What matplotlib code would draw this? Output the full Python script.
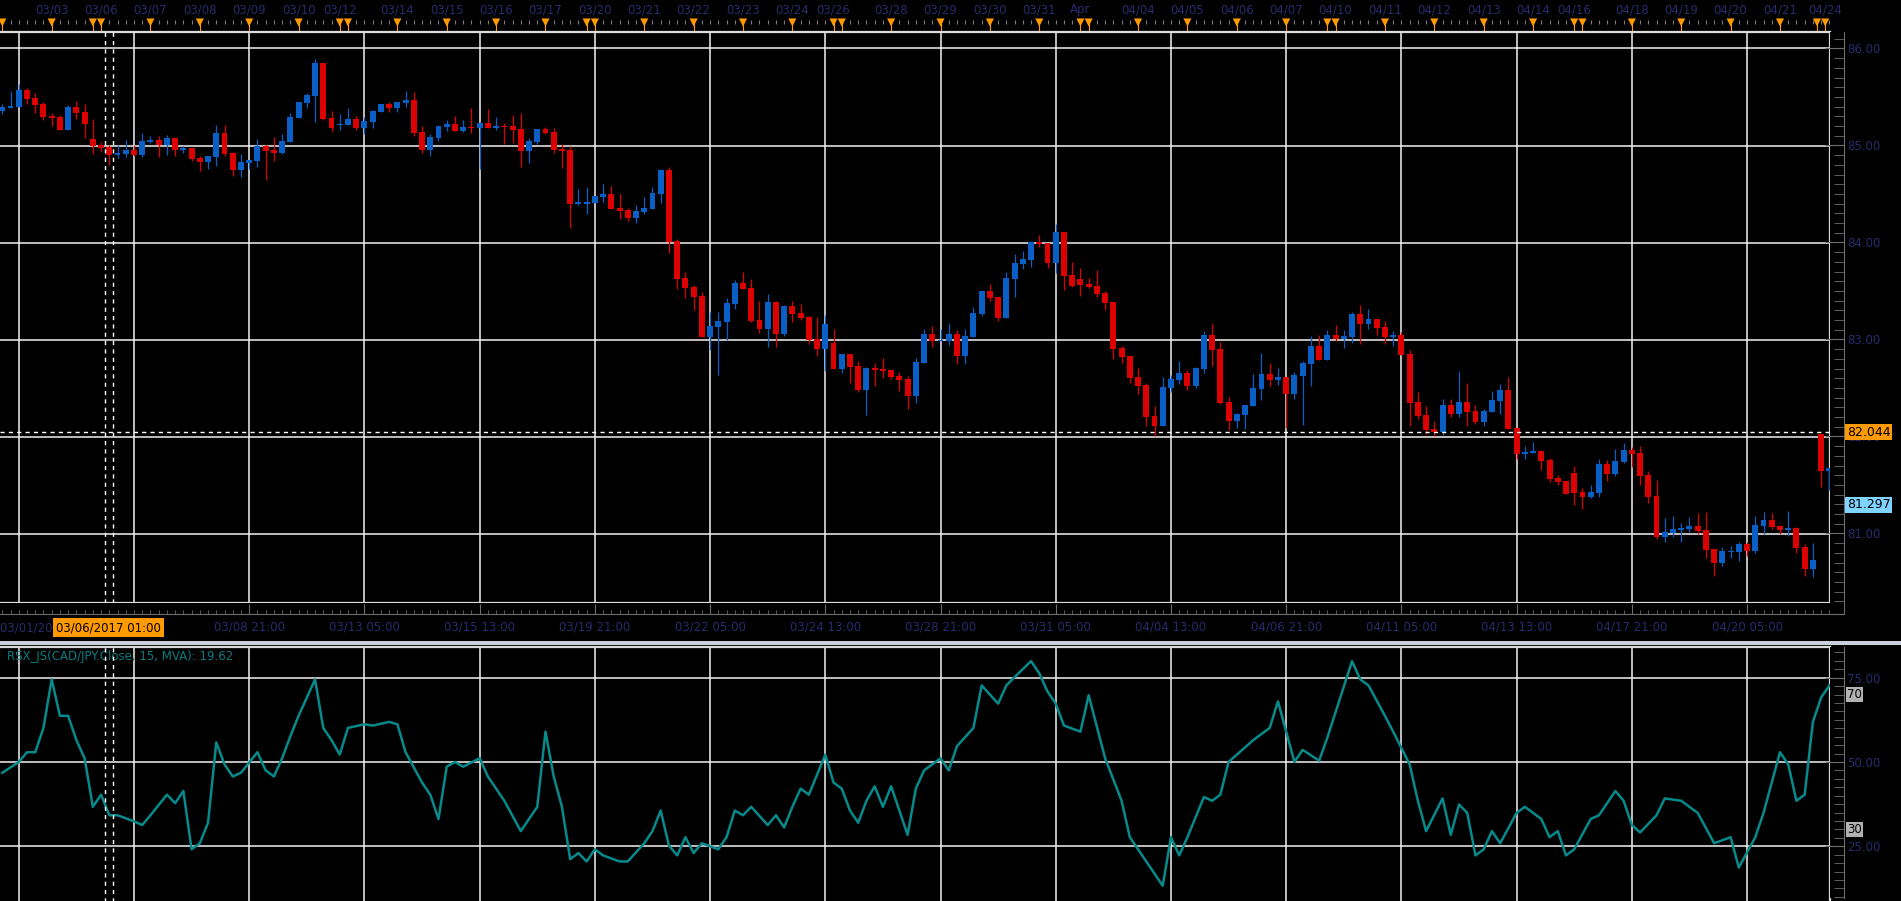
import matplotlib
matplotlib.use("Agg")
import matplotlib.pyplot as plt
from matplotlib.collections import LineCollection
from matplotlib.patches import Rectangle

# ---------------------------------------------------------
# CAD/JPY 4h candles
# ---------------------------------------------------------
opens = [85.354, 85.388, 85.395, 85.570, 85.488, 85.426, 85.302, 85.292, 85.158, 85.395,
         85.344, 85.065, 85.003, 84.983, 84.900, 84.911, 84.952, 84.900, 85.034, 85.055,
         85.003, 85.076, 84.955, 84.973, 84.869, 84.828, 84.880, 85.127, 84.921, 84.746,
         84.818, 84.839, 84.993, 84.952, 84.921, 85.034, 85.282, 85.436, 85.509, 85.849,
         85.282, 85.210, 85.210, 85.271, 85.179, 85.241, 85.344, 85.426, 85.385, 85.436,
         85.467, 85.137, 84.952, 85.076, 85.189, 85.220, 85.151, 85.192, 85.182, 85.230,
         85.182, 85.203, 85.203, 85.168, 84.942, 85.034, 85.168, 85.137, 84.962, 84.952,
         84.395, 84.395, 84.406, 84.467, 84.498, 84.354, 84.333, 84.251, 84.313, 84.344,
         84.498, 84.746, 84.014, 83.632, 83.540, 83.447, 83.024, 83.127, 83.179, 83.364,
         83.581, 83.529, 83.200, 83.107, 83.385, 83.055, 83.344, 83.272, 83.230, 83.004,
         82.901, 82.962, 82.694, 82.849, 82.725, 82.478, 82.705, 82.694, 82.684, 82.622,
         82.591, 82.416, 82.756, 83.055, 82.983, 82.983, 83.055, 82.828, 83.024, 83.261,
         83.498, 83.436, 83.220, 83.622, 83.777, 83.818, 84.003, 83.993, 83.787, 84.107,
         83.663, 83.622, 83.570, 83.550, 83.478, 83.385, 82.911, 82.828, 82.612, 82.529,
         82.210, 82.107, 82.498, 82.581, 82.653, 82.519, 82.694, 83.045, 82.900, 82.354,
         82.158, 82.220, 82.313, 82.488, 82.643, 82.581, 82.612, 82.437, 82.622, 82.746,
         82.931, 82.787, 83.045, 83.004, 83.024, 83.261, 83.158, 83.210, 83.127, 83.027,
         83.045, 82.849, 82.354, 82.220, 82.076, 82.045, 82.323, 82.230, 82.354, 82.261,
         82.148, 82.251, 82.364, 82.478, 82.086, 81.818, 81.828, 81.849, 81.756, 81.571,
         81.540, 81.622, 81.426, 81.375, 81.416, 81.715, 81.612, 81.736, 81.859, 81.828,
         81.602, 81.385, 80.962, 81.004, 81.035, 81.045, 81.076, 81.035, 80.839, 80.694,
         80.808, 80.808, 80.890, 80.818, 81.076, 81.138, 81.076, 81.035, 81.055, 80.859,
         80.633, 82.024, 81.643]
highs = [85.426, 85.560, 85.632, 85.591, 85.543, 85.447, 85.333, 85.313, 85.416, 85.457,
         85.426, 85.271, 85.034, 85.003, 85.003, 85.055, 85.003, 85.127, 85.096, 85.096,
         85.107, 85.076, 84.993, 84.973, 84.890, 84.890, 85.210, 85.210, 84.931, 84.911,
         84.849, 85.065, 85.014, 85.086, 85.117, 85.333, 85.447, 85.539, 85.890, 85.849,
         85.354, 85.323, 85.385, 85.302, 85.292, 85.364, 85.426, 85.447, 85.447, 85.560,
         85.550, 85.199, 85.117, 85.199, 85.261, 85.302, 85.261, 85.390, 85.244, 85.380,
         85.292, 85.230, 85.313, 85.333, 85.076, 85.168, 85.189, 85.179, 85.014, 84.993,
         84.550, 84.571, 84.478, 84.601, 84.581, 84.498, 84.354, 84.385, 84.467, 84.571,
         84.756, 84.777, 84.034, 83.694, 83.560, 83.488, 83.282, 83.282, 83.426, 83.612,
         83.694, 83.622, 83.395, 83.468, 83.395, 83.354, 83.395, 83.364, 83.241, 83.230,
         83.251, 83.107, 82.849, 82.849, 82.777, 82.715, 82.756, 82.808, 82.684, 82.663,
         82.622, 82.808, 83.107, 83.138, 83.107, 83.169, 83.096, 83.107, 83.333, 83.498,
         83.570, 83.436, 83.694, 83.880, 83.911, 84.014, 84.076, 83.993, 84.189, 84.107,
         83.797, 83.735, 83.632, 83.715, 83.498, 83.385, 82.931, 82.828, 82.705, 82.550,
         82.313, 82.612, 82.632, 82.777, 82.684, 82.715, 83.086, 83.169, 82.973, 82.406,
         82.241, 82.323, 82.643, 82.859, 82.756, 82.705, 82.612, 82.663, 82.777, 83.034,
         83.045, 83.096, 83.148, 83.096, 83.282, 83.354, 83.313, 83.210, 83.189, 83.086,
         83.076, 82.890, 82.457, 82.313, 82.158, 82.385, 82.385, 82.674, 82.550, 82.323,
         82.282, 82.467, 82.540, 82.612, 82.086, 81.900, 81.942, 81.859, 81.777, 81.602,
         81.540, 81.694, 81.468, 81.498, 81.766, 81.756, 81.870, 81.931, 81.890, 81.900,
         81.643, 81.550, 81.158, 81.179, 81.107, 81.169, 81.210, 81.220, 80.839, 80.859,
         80.870, 80.911, 80.911, 81.179, 81.220, 81.210, 81.086, 81.230, 81.066, 80.890,
         80.901, 82.024, 81.674]
lows = [85.323, 85.388, 85.395, 85.430, 85.333, 85.265, 85.199, 85.158, 85.158, 85.271,
        85.076, 84.911, 84.931, 84.797, 84.869, 84.880, 84.890, 84.880, 85.024, 84.880,
        84.900, 84.890, 84.921, 84.839, 84.735, 84.756, 84.787, 84.890, 84.684, 84.674,
        84.756, 84.777, 84.643, 84.839, 84.911, 85.034, 85.282, 85.385, 85.241, 85.261,
        85.137, 85.158, 85.210, 85.158, 85.117, 85.179, 85.344, 85.344, 85.344, 85.395,
        85.096, 84.921, 84.890, 85.045, 85.148, 85.148, 85.141, 85.131, 84.756, 85.182,
        85.161, 85.017, 85.027, 84.780, 84.818, 85.017, 85.117, 84.924, 84.766, 84.151,
        84.385, 84.292, 84.406, 84.416, 84.344, 84.241, 84.220, 84.199, 84.292, 84.344,
        84.406, 83.890, 83.519, 83.426, 83.303, 83.024, 82.890, 82.633, 82.993, 83.313,
        83.519, 83.179, 83.066, 82.921, 82.921, 83.035, 83.179, 83.200, 82.952, 82.828,
        82.674, 82.694, 82.653, 82.550, 82.457, 82.220, 82.519, 82.602, 82.591, 82.468,
        82.282, 82.344, 82.756, 82.921, 82.983, 82.942, 82.746, 82.746, 83.024, 83.241,
        83.395, 83.189, 83.220, 83.436, 83.725, 83.746, 83.952, 83.735, 83.684, 83.509,
        83.540, 83.447, 83.529, 83.436, 83.302, 82.797, 82.756, 82.550, 82.437, 82.107,
        82.004, 82.107, 82.457, 82.540, 82.478, 82.498, 82.653, 82.725, 82.334, 82.066,
        82.086, 82.076, 82.313, 82.375, 82.519, 82.529, 82.086, 82.385, 82.117, 82.519,
        82.787, 82.787, 82.983, 82.911, 82.962, 82.952, 83.107, 83.045, 82.955, 82.935,
        82.839, 82.107, 82.179, 82.024, 82.004, 82.014, 82.199, 82.199, 82.107, 82.127,
        82.107, 82.251, 82.230, 82.076, 81.766, 81.766, 81.828, 81.653, 81.529, 81.498,
        81.406, 81.292, 81.251, 81.364, 81.375, 81.540, 81.591, 81.725, 81.684, 81.498,
        81.313, 80.942, 80.911, 80.962, 80.911, 81.014, 80.993, 80.746, 80.560, 80.664,
        80.746, 80.715, 80.767, 80.798, 80.993, 81.045, 80.993, 80.973, 80.798, 80.560,
        80.550, 81.478, 81.447]
closes = [85.395, 85.405, 85.570, 85.478, 85.416, 85.292, 85.282, 85.158, 85.395, 85.333,
          85.220, 84.993, 84.973, 84.900, 84.921, 84.952, 84.900, 85.045, 85.055, 85.003,
          85.076, 84.952, 84.973, 84.859, 84.828, 84.890, 85.127, 84.911, 84.746, 84.828,
          84.849, 84.993, 84.942, 84.921, 85.045, 85.292, 85.447, 85.519, 85.849, 85.271,
          85.179, 85.220, 85.271, 85.179, 85.251, 85.354, 85.426, 85.385, 85.447, 85.467,
          85.127, 84.952, 85.086, 85.199, 85.220, 85.148, 85.189, 85.182, 85.230, 85.182,
          85.203, 85.192, 85.161, 84.942, 85.045, 85.168, 85.127, 84.952, 84.942, 84.395,
          84.416, 84.416, 84.478, 84.498, 84.344, 84.323, 84.251, 84.323, 84.354, 84.509,
          84.746, 84.007, 83.622, 83.529, 83.437, 83.024, 83.138, 83.189, 83.375, 83.581,
          83.519, 83.189, 83.107, 83.385, 83.055, 83.344, 83.261, 83.220, 82.993, 82.901,
          83.158, 82.694, 82.849, 82.715, 82.478, 82.705, 82.684, 82.674, 82.612, 82.581,
          82.416, 82.767, 83.055, 82.983, 82.993, 83.055, 82.828, 83.034, 83.272, 83.498,
          83.426, 83.220, 83.632, 83.787, 83.828, 84.003, 83.983, 83.787, 84.107, 83.653,
          83.550, 83.560, 83.540, 83.467, 83.375, 82.900, 82.818, 82.602, 82.519, 82.200,
          82.107, 82.509, 82.591, 82.653, 82.519, 82.705, 83.045, 82.890, 82.344, 82.158,
          82.230, 82.323, 82.498, 82.643, 82.581, 82.612, 82.437, 82.632, 82.756, 82.931,
          82.787, 83.045, 83.004, 83.034, 83.261, 83.158, 83.210, 83.117, 83.027, 83.045,
          82.839, 82.344, 82.210, 82.065, 82.045, 82.323, 82.230, 82.354, 82.251, 82.148,
          82.261, 82.375, 82.478, 82.076, 81.818, 81.839, 81.849, 81.746, 81.560, 81.529,
          81.406, 81.416, 81.375, 81.426, 81.715, 81.612, 81.746, 81.859, 81.818, 81.591,
          81.375, 80.962, 81.014, 81.045, 81.055, 81.076, 81.024, 80.828, 80.694, 80.818,
          80.818, 80.890, 80.818, 81.086, 81.138, 81.066, 81.035, 81.055, 80.849, 80.633,
          80.725, 81.643, 81.674]

# RSX oscillator, turning points (bar index, value)
rsi_idx = [0, 2, 3, 4, 5, 6, 7, 8, 9, 10, 11, 12, 13, 14, 16, 17, 18, 20, 21, 22, 23, 24, 25,
           26, 27, 28, 29, 31, 32, 33, 34, 35, 36, 38, 39, 40, 41, 42, 44, 45, 47, 48, 49, 51,
           52, 53, 54, 55, 56, 58, 59, 61, 63, 65, 66, 67, 68, 69, 70, 71, 72, 73, 75, 76, 78,
           79, 80, 81, 82, 83, 84, 85, 87, 88, 89, 90, 91, 93, 94, 95, 96, 97, 98, 100, 101,
           102, 103, 104, 105, 106, 107, 108, 110, 111, 112, 114, 115, 116, 118, 119, 121,
           122, 123, 125, 126, 127, 128, 129, 131, 132, 134, 136, 137, 139, 141, 142, 143,
           144, 146, 147, 148, 149, 152, 154, 155, 157, 158, 160, 161, 164, 165, 166, 168,
           169, 171, 172, 173, 175, 176, 177, 178, 179, 180, 181, 182, 184, 185, 187, 188,
           189, 190, 191, 193, 194, 196, 197, 198, 199, 201, 202, 204, 206, 208, 210, 211,
           213, 214, 216, 217, 218, 219, 220, 221, 222]
rsi_val = [46.8, 50.0, 52.9, 52.9, 60.1, 74.5, 63.7, 63.7, 56.5, 51.1, 36.7, 40.3, 34.2, 34.2,
           32.4, 31.3, 34.2, 40.3, 37.8, 41.4, 24.1, 25.9, 32.0, 55.8, 49.3, 45.7, 46.8, 52.9,
           47.5, 45.7, 51.1, 57.6, 63.7, 74.5, 60.1, 56.5, 52.2, 60.1, 61.2, 60.8, 61.9, 61.2,
           52.9, 43.9, 40.3, 33.1, 48.6, 50.0, 48.6, 51.1, 45.7, 38.5, 29.5, 36.7, 59.0, 45.7,
           36.7, 21.2, 23.0, 20.5, 24.1, 22.3, 20.5, 20.5, 25.9, 29.5, 35.6, 25.2, 22.3, 27.7,
           23.0, 25.9, 24.1, 27.7, 35.6, 34.2, 36.7, 31.3, 34.2, 30.6, 36.7, 42.1, 40.3, 52.2,
           43.9, 42.1, 35.6, 32.0, 38.5, 42.8, 36.7, 42.8, 28.4, 42.1, 47.5, 51.1, 47.5, 54.7,
           60.1, 72.7, 67.3, 72.7, 75.2, 79.9, 76.3, 70.9, 67.3, 60.8, 59.0, 69.8, 51.1, 38.5,
           27.7, 20.5, 13.3, 27.7, 22.3, 27.7, 39.6, 38.5, 40.3, 50.0, 56.5, 60.1, 68.0, 50.0,
           53.6, 50.4, 57.2, 79.9, 74.5, 72.7, 63.7, 59.0, 49.3, 38.5, 29.5, 39.2, 28.4, 37.4,
           34.9, 22.3, 24.1, 29.5, 25.9, 34.9, 36.7, 33.1, 27.7, 29.5, 22.3, 24.1, 33.1, 34.2,
           41.4, 38.5, 31.3, 29.1, 34.2, 39.2, 38.5, 34.9, 25.9, 27.7, 18.7, 27.7, 34.9, 52.9,
           49.3, 38.5, 40.3, 61.9, 69.1, 72.7]

# day separators on the top strip (bar index) and their captions
day_idx = [0, 6, 11, 12, 18, 24, 30, 36, 41, 42, 48, 54, 60, 66, 71, 72, 78, 84, 90, 96, 101,
           102, 108, 114, 120, 126, 131, 132, 138, 144, 150, 156, 161, 162, 168, 174, 180, 186,
           191, 192, 198, 204, 210, 216, 220.5, 221.5]
day_lbl_idx = [6, 12, 18, 24, 30, 36, 41, 48, 54, 60, 66, 72, 78, 84, 90, 96, 101, 108, 114,
               120, 126, 131, 138, 144, 150, 156, 162, 168, 174, 180, 186, 191, 198, 204, 210,
               216, 221.5]
day_lbl = ["03/03", "03/06", "03/07", "03/08", "03/09", "03/10", "03/12", "03/14", "03/15",
           "03/16", "03/17", "03/20", "03/21", "03/22", "03/23", "03/24", "03/26", "03/28",
           "03/29", "03/30", "03/31", "Apr", "04/04", "04/05", "04/06", "04/07", "04/10",
           "04/11", "04/12", "04/13", "04/14", "04/16", "04/18", "04/19", "04/20", "04/21",
           "04/24"]

# vertical grid / time axis
grid_idx = [2, 16, 30, 44, 58, 72, 86, 100, 114, 128, 142, 156, 170, 184, 198, 212]
time_lbl_idx = [30, 44, 58, 72, 86, 100, 114, 128, 142, 156, 170, 184, 198, 212]
time_lbl = ["03/08 21:00", "03/13 05:00", "03/15 13:00", "03/19 21:00", "03/22 05:00",
            "03/24 13:00", "03/28 21:00", "03/31 05:00", "04/04 13:00", "04/06 21:00",
            "04/11 05:00", "04/13 13:00", "04/17 21:00", "04/20 05:00"]

cross_x = [12.45, 13.45]
cross_price = 82.044
last_price = 81.297
rsi_text = "RSX_JS(CAD/JPY.Close, 15, MVA): 19.62"

# ---------------------------------------------------------
# style / layout
# ---------------------------------------------------------
W, H = 1901, 901
BG = "black"
GRID = "#f2f2f2"
FRAME = "#dcdcdc"
AXC = "#6e6e6e"
TXT = "#282b6c"
UP = "#0a5fc6"
DOWN = "#dc0000"
TEAL = "#078a8c"
ORANGE = "#ff9a00"

plt.rcParams["font.family"] = ["DejaVu Sans"]
plt.rcParams["font.size"] = 8.5

BAR = 8.23      # px per bar
X0 = -0.28      # bar index at left edge

fig = plt.figure(figsize=(W / 100, H / 100), dpi=100, facecolor=BG)


def box(x0, y0, x1, y1):
    ax = fig.add_axes([x0 / W, 1 - y1 / H, (x1 - x0) / W, (y1 - y0) / H])
    ax.set_facecolor(BG)
    return ax


def xl(width_px):
    return (X0, X0 + width_px / BAR)


def bare(ax):
    ax.set_xticks([])
    ax.set_yticks([])
    for s in ax.spines.values():
        s.set_visible(False)


# ---------------- top strip with day markers ----------------
ax_top = box(0, 0, 1830, 31)
bare(ax_top)
ax_top.set_xlim(*xl(1830))
ax_top.set_ylim(31, 0)
ax_top.vlines(range(len(closes)), 19.5, 23.5, color="#7c7c7c", lw=0.8)
ax_top.vlines(day_idx, 23, 31, color=ORANGE, lw=0.8)
ax_top.scatter(day_idx, [22.5] * len(day_idx), marker="v", s=34, color=ORANGE,
               edgecolors="none", zorder=3)
for x, t in zip(day_lbl_idx, day_lbl):
    ax_top.text(x, 10, t, color=TXT, ha="center", va="center", fontsize=8.5)

# ---------------- main candle panel ----------------
ax1 = box(0, 32, 1830, 603)
ax1.set_xlim(*xl(1830))
ax1.set_ylim(80.284, 86.170)
ax1.set_xticks(grid_idx)
ax1.set_yticks(range(81, 87))
ax1.tick_params(length=0, labelbottom=False, labelleft=False)
ax1.grid(True, color=GRID, lw=1.1)
ax1.spines["left"].set_visible(False)
for s in ("top", "right", "bottom"):
    ax1.spines[s].set_color(FRAME)
    ax1.spines[s].set_linewidth(1.6)

idx = list(range(len(closes)))
cols = [UP if c >= o else DOWN for o, c in zip(opens, closes)]
wicks = [[(i, l), (i, h)] for i, l, h in zip(idx, lows, highs)]
ax1.add_collection(LineCollection(wicks, colors=cols, linewidths=0.9, zorder=3))
ax1.bar(idx, [max(abs(c - o), 0.012) for o, c in zip(opens, closes)],
        bottom=[min(o, c) for o, c in zip(opens, closes)],
        width=0.72, color=cols, linewidth=0, zorder=4)

for x in cross_x:
    ax1.axvline(x, color="white", lw=1.0, ls=(0, (3, 3)), zorder=5)
ax1.axhline(cross_price, color="white", lw=1.0, ls=(0, (3, 3)), zorder=5)

# right price scale
ax1r = box(1830, 32, 1844, 614)
ax1r.set_ylim(80.170, 86.170)
ax1r.set_xticks([])
for s in ("top", "left", "bottom"):
    ax1r.spines[s].set_visible(False)
ax1r.spines["right"].set_color(AXC)
ax1r.yaxis.tick_right()
ax1r.set_yticks(range(81, 87))
ax1r.set_yticklabels([f"{v:.2f}" for v in range(81, 87)])
ax1r.set_yticks([80.2 + 0.1 * k for k in range(60)], minor=True)
ax1r.tick_params(axis="y", which="major", direction="in", length=14, color=AXC,
                 labelcolor=TXT, labelsize=8.5, pad=2)
ax1r.tick_params(axis="y", which="minor", direction="in", length=7, color=AXC)
ax1r.annotate(f"{cross_price:.3f}", xy=(1, cross_price), xycoords=("axes fraction", "data"),
              xytext=(2, 0), textcoords="offset points", ha="left", va="center",
              fontsize=9, color="black", annotation_clip=False, zorder=10,
              bbox=dict(boxstyle="square,pad=0.12", fc=ORANGE, ec="none"))
ax1r.annotate(f"{last_price:.3f}", xy=(1, last_price), xycoords=("axes fraction", "data"),
              xytext=(2, 0), textcoords="offset points", ha="left", va="center",
              fontsize=9, color="black", annotation_clip=False, zorder=10,
              bbox=dict(boxstyle="square,pad=0.12", fc="#80d2ff", ec="none"))

# time axis
ax_b = box(0, 603, 1844, 614)
ax_b.set_xlim(*xl(1844))
ax_b.set_yticks([])
for s in ("top", "left", "right"):
    ax_b.spines[s].set_visible(False)
ax_b.spines["bottom"].set_color(AXC)
ax_b.set_xticks(time_lbl_idx)
ax_b.set_xticklabels(time_lbl)
ax_b.set_xticks(idx, minor=True)
ax_b.tick_params(axis="x", which="major", direction="in", length=7, color=AXC,
                 labelcolor=TXT, labelsize=8.5, pad=5)
ax_b.tick_params(axis="x", which="minor", direction="in", length=3, color=AXC)
ax_b.annotate("03/01/2017 13:00", xy=(X0, 0), xycoords=("data", "axes fraction"),
              xytext=(0, -10), textcoords="offset points", ha="left", va="center",
              color=TXT, fontsize=8.5, annotation_clip=False)
ax_b.annotate("03/06/2017 01:00", xy=(sum(cross_x) / 2, 0),
              xycoords=("data", "axes fraction"), xytext=(0, -10),
              textcoords="offset points", ha="center", va="center", color="black",
              fontsize=8.5, annotation_clip=False, zorder=10,
              bbox=dict(boxstyle="square,pad=0.25", fc=ORANGE, ec="none"))

# separator bar between panels
fig.add_artist(Rectangle((0, 1 - 645 / H), 1, 4 / H, transform=fig.transFigure,
                         fc="#c8d0dc", ec="none"))

# ---------------- RSX panel ----------------
ax2 = box(0, 647, 1830, 905)
ax2.set_xlim(*xl(1830))
ax2.set_ylim(7.59, 84.1)
ax2.set_xticks(grid_idx)
ax2.set_yticks([25, 50, 75])
ax2.tick_params(length=0, labelbottom=False, labelleft=False)
ax2.grid(True, color=GRID, lw=1.1)
for s in ("left", "bottom"):
    ax2.spines[s].set_visible(False)
for s in ("top", "right"):
    ax2.spines[s].set_color(FRAME)
    ax2.spines[s].set_linewidth(1.6)
ax2.plot(rsi_idx, rsi_val, color=TEAL, lw=1.8, zorder=4)
for x in cross_x:
    ax2.axvline(x, color="white", lw=1.0, ls=(0, (3, 3)), zorder=5)
ax2.text(0.004, 0.99, rsi_text, transform=ax2.transAxes, ha="left", va="top",
         color="#0a7c80", fontsize=8.5)

ax2r = box(1830, 647, 1844, 898)
ax2r.set_ylim(9.67, 84.1)
ax2r.set_xticks([])
for s in ("top", "left", "bottom"):
    ax2r.spines[s].set_visible(False)
ax2r.spines["right"].set_color(AXC)
ax2r.yaxis.tick_right()
ax2r.set_yticks([25, 50, 75])
ax2r.set_yticklabels(["25.00", "50.00", "75.00"])
ax2r.set_yticks([10 + 2.5 * k for k in range(30)], minor=True)
ax2r.tick_params(axis="y", which="major", direction="in", length=14, color=AXC,
                 labelcolor=TXT, labelsize=8.5, pad=2)
ax2r.tick_params(axis="y", which="minor", direction="in", length=7, color=AXC)
for lvl in (70, 30):
    ax2r.annotate(str(lvl), xy=(1, lvl), xycoords=("axes fraction", "data"),
                  xytext=(2, 0), textcoords="offset points", ha="left", va="center",
                  fontsize=8.5, color="black", annotation_clip=False,
                  bbox=dict(boxstyle="square,pad=0.1", fc="#b2b2b2", ec="none"))

fig.savefig("out.png", dpi=100, facecolor=BG)
